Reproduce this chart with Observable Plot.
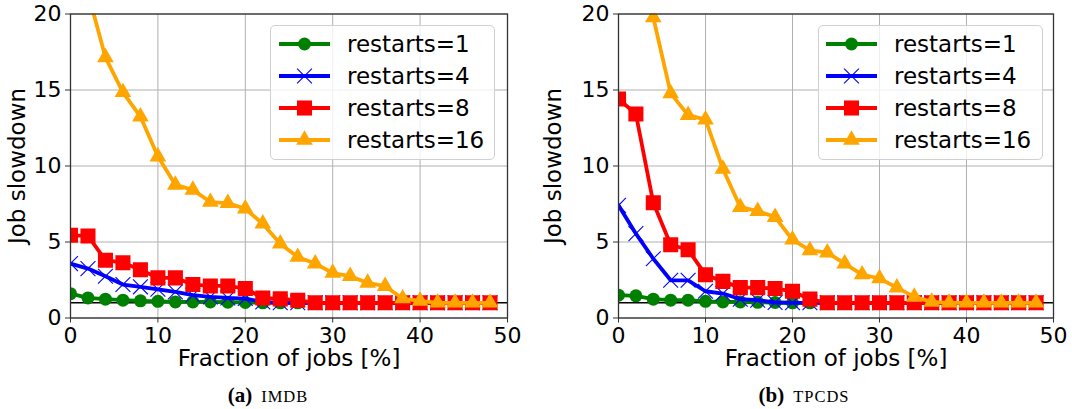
<!DOCTYPE html>
<html>
<head>
<meta charset="utf-8">
<script src="https://cdn.jsdelivr.net/npm/d3@7"></script>
<script src="https://cdn.jsdelivr.net/npm/@observablehq/plot@0.6"></script>
<style>
  html, body { margin: 0; padding: 0; background: white; }
  #wrap { position: relative; width: 1072px; height: 409px; overflow: hidden; font-family: "DejaVu Sans", sans-serif; }
  .panel { position: absolute; top: 0; }
  .legend { position: absolute; box-sizing: border-box; border: 1px solid #d0d0d0; border-radius: 5px; background: rgba(255,255,255,0.8); }
  .row { position: absolute; left: 0; height: 32px; display: flex; align-items: center; }
  .row span { font-size: 23px; color: black; white-space: nowrap; }
  .cap { position: absolute; top: 383px; width: 536px; text-align: center; font-family: "Liberation Serif", "DejaVu Serif", serif; font-size: 21px; color: black; }
  .cap b { font-weight: bold; }
  .cap .sc { font-size: 16.5px; letter-spacing: 1px; margin-left: 9px; }
</style>
</head>
<body>
<div id="wrap"></div>
<script>
// ---------- data ----------
const fractions = [0,2,4,6,8,10,12,14,16,18,20,22,24,26,28,30,32,34,36,38,40,42,44,46,48];
const seriesNames = ["restarts=1", "restarts=4", "restarts=8", "restarts=16"];
const seriesColors = ["green", "blue", "red", "orange"];
const seriesSymbols = ["circle", "times", "square", "triangle"];

const imdbR1  = [1.6,1.32,1.24,1.17,1.13,1.1,1.06,1.06,1.06,1.04,1.02,1,1,1,1,1,1,1,1,1,1,1,1,1,1];
const imdbR4  = [3.58,3.25,2.75,2.2,2.05,1.89,1.72,1.5,1.39,1.32,1.28,1.06,1,1,1,1,1,1,1,1,1,1,1,1,1];
const imdbR8  = [5.44,5.4,3.8,3.64,3.18,2.64,2.64,2.2,2.11,2.11,1.94,1.32,1.26,1.17,1,1,1,1,1,1,1,1,1,1,1];
const imdbR16 = [28,21.4,17.14,14.85,13.25,10.62,8.76,8.43,7.63,7.56,7.19,6.2,4.89,4.01,3.58,2.96,2.75,2.31,2.09,1.28,1.13,1,1,1,1];

const tpcdsR1  = [1.5,1.46,1.24,1.17,1.17,1.1,1.06,1.06,1.03,1.02,1,1,1,1,1,1,1,1,1,1,1,1,1,1,1];
const tpcdsR4  = [7.41,5.55,3.9,2.48,2.48,1.76,1.61,1.24,1.17,1.02,1,1,1,1,1,1,1,1,1,1,1,1,1,1,1];
const tpcdsR8  = [14.41,13.42,7.58,4.82,4.49,2.85,2.41,2.0,2.0,1.94,1.76,1.24,1,1,1,1,1,1,1,1,1,1,1,1,1];
const tpcdsR16 = [30,26,19.77,14.78,13.35,13.05,9.81,7.29,7.03,6.64,5.15,4.45,4.3,3.58,2.86,2.6,2.0,1.39,1.06,1,1,1,1,1,1];

const xTicks = [0,10,20,30,40,50];
const yTicks = [0,5,10,15,20];
const xLabel = "Fraction of jobs [%]";
const yLabel = "Job slowdown";
const panels = [
  {key: "a", name: "IMDB", series: [imdbR1, imdbR4, imdbR8, imdbR16]},
  {key: "b", name: "TPCDS", series: [tpcdsR1, tpcdsR4, tpcdsR8, tpcdsR16]}
];

// ---------- layout ----------
const TICKFONT = 22;
const LABELFONT = 23;
const layout = [
  {left: 0,   mL: 70, mR: 29, legLeft: 270, lineX0: 8, textX: 76},
  {left: 536, mL: 82, mR: 19, legLeft: 818 - 536, lineX0: 7, textX: 75}
];
const symR = {circle: 6.5, times: 6.8, square: 8.5, triangle: 6.2};

const wrap = document.getElementById("wrap");

panels.forEach((p, pi) => {
  const L = layout[pi];
  const marks = [
    Plot.gridX(xTicks, {stroke: "#b0b0b0", strokeOpacity: 1, strokeWidth: 1}),
    Plot.gridY(yTicks, {stroke: "#b0b0b0", strokeOpacity: 1, strokeWidth: 1}),
    Plot.ruleY([1], {stroke: "black", strokeWidth: 1.5})
  ];
  p.series.forEach((vals, si) => {
    const data = fractions.map((f, i) => ({x: f, y: vals[i]}));
    marks.push(Plot.line(data, {x: "x", y: "y", stroke: seriesColors[si], strokeWidth: 3.8, clip: true}));
    const sym = seriesSymbols[si];
    if (sym === "times") {
      marks.push(Plot.dot(data, {x: "x", y: "y", symbol: sym, r: symR[sym], stroke: seriesColors[si], strokeWidth: 1.1, clip: true}));
    } else {
      marks.push(Plot.dot(data, {x: "x", y: "y", symbol: sym, r: symR[sym], fill: seriesColors[si], stroke: "none", clip: true}));
    }
  });
  marks.push(Plot.frame({stroke: "#333", strokeWidth: 1.3}));
  marks.push(Plot.axisX(xTicks, {tickSize: 5, tickPadding: 4, fontSize: TICKFONT, label: null, stroke: "#333"}));
  marks.push(Plot.axisY(yTicks, {tickSize: 5, tickPadding: 4, fontSize: TICKFONT, label: null, stroke: "#333"}));
  marks.push(Plot.text([xLabel], {frameAnchor: "bottom", dy: 41, fontSize: LABELFONT, lineAnchor: "middle", textAnchor: "middle", fill: "black"}));
  marks.push(Plot.text([yLabel], {frameAnchor: "left", dx: -(L.mL - 17), rotate: -90, fontSize: LABELFONT, lineAnchor: "middle", textAnchor: "middle", fill: "black"}));

  const chart = Plot.plot({
    width: 536,
    height: 372,
    marginLeft: L.mL,
    marginRight: L.mR,
    marginTop: 13.5,
    marginBottom: 54.5,
    x: {domain: [0, 50], label: null},
    y: {domain: [0, 20], label: null},
    style: {fontFamily: "DejaVu Sans", fontSize: TICKFONT + "px", background: "white", color: "black", overflow: "visible"},
    marks
  });
  const holder = document.createElement("div");
  holder.className = "panel";
  holder.style.left = L.left + "px";
  holder.appendChild(chart);
  wrap.appendChild(holder);

  // legend
  const leg = document.createElement("div");
  leg.className = "legend";
  leg.style.left = (L.left + L.legLeft) + "px";
  leg.style.top = "25px";
  leg.style.width = "225px";
  leg.style.height = "135px";
  seriesNames.forEach((nm, si) => {
    const row = document.createElement("div");
    row.className = "row";
    row.style.top = (1.5 + si * 32) + "px";
    const svg = d3.create("svg").attr("width", 60).attr("height", 32).style("position", "absolute").style("left", L.lineX0 + "px");
    svg.append("line").attr("x1", 0).attr("x2", 51).attr("y1", 16).attr("y2", 16)
      .attr("stroke", seriesColors[si]).attr("stroke-width", 3.8);
    const sym = seriesSymbols[si];
    const symMap = {circle: d3.symbolCircle, times: d3.symbolTimes, square: d3.symbolSquare, triangle: d3.symbolTriangle};
    const size = Math.PI * symR[sym] * symR[sym];
    const path = svg.append("path").attr("d", d3.symbol(symMap[sym], size)()).attr("transform", "translate(25.5,16)");
    if (sym === "times") path.attr("fill", "none").attr("stroke", seriesColors[si]).attr("stroke-width", 1.1);
    else path.attr("fill", seriesColors[si]);
    row.appendChild(svg.node());
    const span = document.createElement("span");
    span.textContent = nm;
    span.style.position = "absolute";
    span.style.left = L.textX + "px";
    row.appendChild(span);
    leg.appendChild(row);
  });
  wrap.appendChild(leg);

  // caption
  const cap = document.createElement("div");
  cap.className = "cap";
  cap.style.left = L.left + "px";
  cap.innerHTML = "<b>(" + p.key + ")</b><span class='sc'>" + p.name + "</span>";
  wrap.appendChild(cap);
});
</script>
</body>
</html>
